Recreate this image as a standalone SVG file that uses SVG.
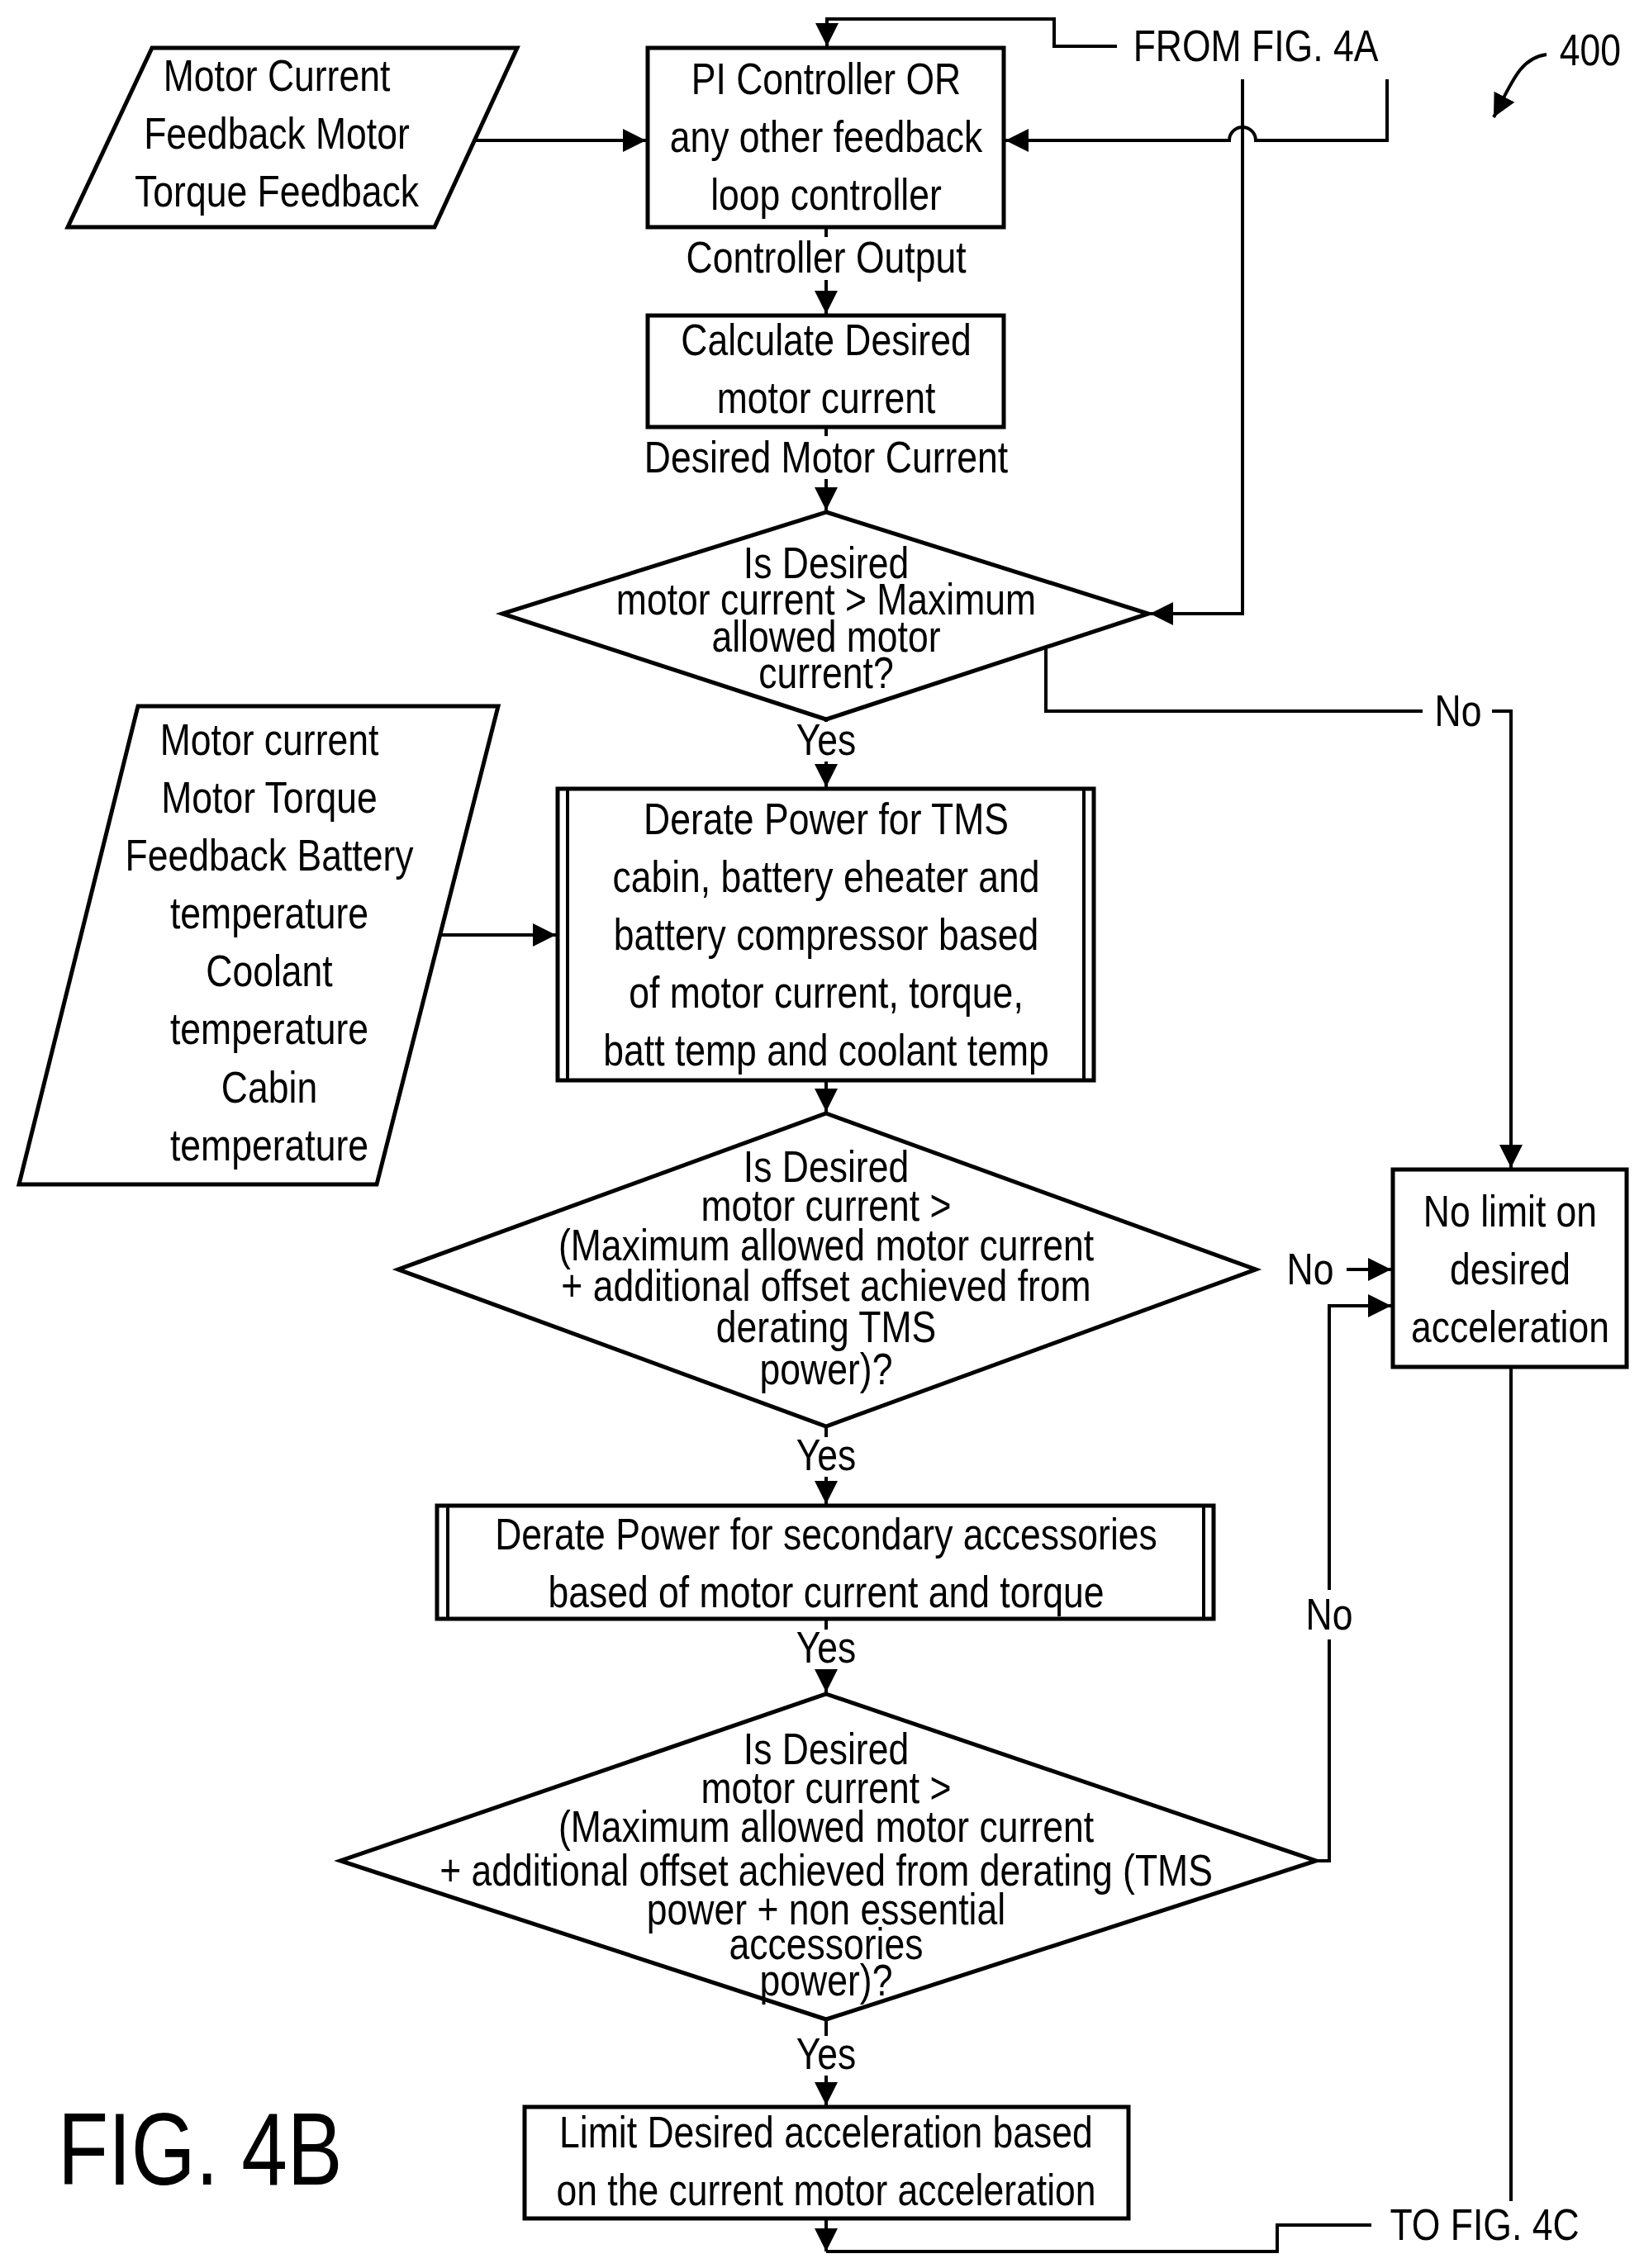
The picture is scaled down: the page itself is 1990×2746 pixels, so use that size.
<svg xmlns="http://www.w3.org/2000/svg" width="1990" height="2746" viewBox="0 0 1990 2746">
<defs>
<marker id="a" viewBox="0 0 10 10" refX="10" refY="5" markerWidth="7" markerHeight="7" orient="auto"><path d="M0,0 L10,5 L0,10 z" fill="#000"/></marker>
<style>
.s{fill:#fff;stroke:#000;stroke-width:5}
.l{fill:none;stroke:#000;stroke-width:4}
.t{font-family:"Liberation Sans",Arial,sans-serif;font-size:53px;text-anchor:middle;dominant-baseline:central;fill:#000;transform-box:fill-box;transform-origin:center;transform:scaleX(0.84)}
.lb{fill:#fff}
</style>
</defs>
<rect width="1990" height="2746" fill="#fff"/>
<g id="connectors">
<path class="l" d="M1352,56 H1276 V23 H1001 V56" marker-end="url(#a)"/>
<path class="l" d="M1679,96 V170 H1520 a16,16 0 0 0 -32,0 H1217" marker-end="url(#a)"/>
<path class="l" d="M1504,96 V743 H1392" marker-end="url(#a)"/>
<path class="l" d="M570,170 H782" marker-end="url(#a)"/>
<path class="l" d="M1000,275 V380" marker-end="url(#a)"/>
<path class="l" d="M1000,517 V618" marker-end="url(#a)"/>
<path class="l" d="M1000,871 V953" marker-end="url(#a)"/>
<path class="l" d="M1266,784 V861 H1722 M1806,861 H1829 V1414" marker-end="url(#a)"/>
<path class="l" d="M531,1132 H673" marker-end="url(#a)"/>
<path class="l" d="M1000,1308 V1346" marker-end="url(#a)"/>
<path class="l" d="M1630,1537 H1684" marker-end="url(#a)"/>
<path class="l" d="M1593,2253 H1609 V1581 H1684" marker-end="url(#a)"/>
<path class="l" d="M1000,1727 V1821" marker-end="url(#a)"/>
<path class="l" d="M1000,1960 V2049" marker-end="url(#a)"/>
<path class="l" d="M1000,2445 V2549" marker-end="url(#a)"/>
<path class="l" d="M1000,2686 V2726" marker-end="url(#a)"/>
<path class="l" d="M1000,2726 H1546 V2694 H1660"/>
<path class="l" d="M1829,1655 V2665"/>
<path class="l" d="M1872,66 C1840,70 1830,100 1808,142" marker-end="url(#a)"/>
<rect class="lb" x="830" y="287" width="340" height="52"/>
<text class="t" x="1000" y="312">Controller Output</text>
<rect class="lb" x="790" y="528" width="420" height="52"/>
<text class="t" x="1000" y="554">Desired Motor Current</text>
<rect class="lb" x="960" y="874" width="80" height="48"/>
<text class="t" x="1000" y="896">Yes</text>
<text class="t" x="1765" y="861">No</text>
<rect class="lb" x="960" y="1740" width="80" height="48"/>
<text class="t" x="1000" y="1762">Yes</text>
<text class="t" x="1586" y="1537">No</text>
<rect class="lb" x="960" y="1973" width="80" height="48"/>
<text class="t" x="1000" y="1995">Yes</text>
<rect class="lb" x="1585" y="1925" width="48" height="60"/>
<text class="t" x="1609" y="1955">No</text>
<rect class="lb" x="960" y="2465" width="80" height="48"/>
<text class="t" x="1000" y="2487">Yes</text>
<text class="t" x="1520" y="56">FROM FIG.  4A</text>
<text class="t" x="1797" y="2694">TO FIG.  4C</text>
<text class="t" x="1925" y="61">400</text>
</g>
<g id="in1">
<polygon class="s" points="184,58 626,58 526,275 82,275"/>
<text class="t" x="335" y="92">Motor Current</text>
<text class="t" x="335" y="162">Feedback Motor</text>
<text class="t" x="335" y="232">Torque Feedback</text>
</g>
<g id="pi">
<rect class="s" x="784" y="58" width="431" height="217"/>
<text class="t" x="1000" y="96">PI Controller OR</text>
<text class="t" x="1000" y="166">any other feedback</text>
<text class="t" x="1000" y="236">loop controller</text>
</g>
<g id="calc">
<rect class="s" x="784" y="382" width="431" height="135"/>
<text class="t" x="1000" y="412">Calculate Desired</text>
<text class="t" x="1000" y="482">motor current</text>
</g>
<g id="d1">
<polygon class="s" points="1000,620 1390,743 1000,871 608,743"/>
<text class="t" x="1000" y="682">Is Desired</text>
<text class="t" x="1000" y="726">motor current &gt; Maximum</text>
<text class="t" x="1000" y="771">allowed motor</text>
<text class="t" x="1000" y="815">current?</text>
</g>
<g id="in2">
<polygon class="s" points="167,855 603,855 456,1434 23,1434"/>
<text class="t" x="326" y="896">Motor current</text>
<text class="t" x="326" y="966">Motor Torque</text>
<text class="t" x="326" y="1036">Feedback Battery</text>
<text class="t" x="326" y="1106">temperature</text>
<text class="t" x="326" y="1176">Coolant</text>
<text class="t" x="326" y="1246">temperature</text>
<text class="t" x="326" y="1317">Cabin</text>
<text class="t" x="326" y="1387">temperature</text>
</g>
<g id="tms">
<rect class="s" x="675" y="955" width="649" height="353"/>
<path class="l" d="M687,955 V1308 M1312,955 V1308"/>
<text class="t" x="1000" y="992">Derate Power for TMS</text>
<text class="t" x="1000" y="1062">cabin, battery eheater and</text>
<text class="t" x="1000" y="1132">battery compressor based</text>
<text class="t" x="1000" y="1202">of motor current, torque,</text>
<text class="t" x="1000" y="1272">batt temp and coolant temp</text>
</g>
<g id="d2">
<polygon class="s" points="1000,1348 1520,1537 1000,1727 482,1537"/>
<text class="t" x="1000" y="1413">Is Desired</text>
<text class="t" x="1000" y="1460">motor current &gt;</text>
<text class="t" x="1000" y="1508">(Maximum allowed motor current</text>
<text class="t" x="1000" y="1557">+ additional offset achieved from</text>
<text class="t" x="1000" y="1607">derating TMS</text>
<text class="t" x="1000" y="1658">power)?</text>
</g>
<g id="nolimit">
<rect class="s" x="1686" y="1416" width="283" height="239"/>
<text class="t" x="1828" y="1467">No limit on</text>
<text class="t" x="1828" y="1537">desired</text>
<text class="t" x="1828" y="1607">acceleration</text>
</g>
<g id="sec">
<rect class="s" x="529" y="1823" width="940" height="137"/>
<path class="l" d="M542,1823 V1960 M1457,1823 V1960"/>
<text class="t" x="1000" y="1858">Derate Power for secondary accessories</text>
<text class="t" x="1000" y="1928">based of motor current and torque</text>
</g>
<g id="d3">
<polygon class="s" points="1000,2051 1593,2253 1000,2445 412,2253"/>
<text class="t" x="1000" y="2118">Is Desired</text>
<text class="t" x="1000" y="2165">motor current &gt;</text>
<text class="t" x="1000" y="2212">(Maximum allowed motor current</text>
<text class="t" x="1000" y="2265">+ additional offset achieved from derating (TMS</text>
<text class="t" x="1000" y="2312">power + non essential</text>
<text class="t" x="1000" y="2354">accessories</text>
<text class="t" x="1000" y="2398">power)?</text>
</g>
<g id="limit">
<rect class="s" x="635" y="2551" width="731" height="135"/>
<text class="t" x="1000" y="2582">Limit Desired acceleration based</text>
<text class="t" x="1000" y="2652">on the current motor acceleration</text>
</g>
<text x="70" y="2645" style="font-family:'Liberation Sans',Arial,sans-serif;font-size:125px;transform-box:fill-box;transform-origin:left;transform:scaleX(0.8)">FIG. 4B</text>
</svg>
